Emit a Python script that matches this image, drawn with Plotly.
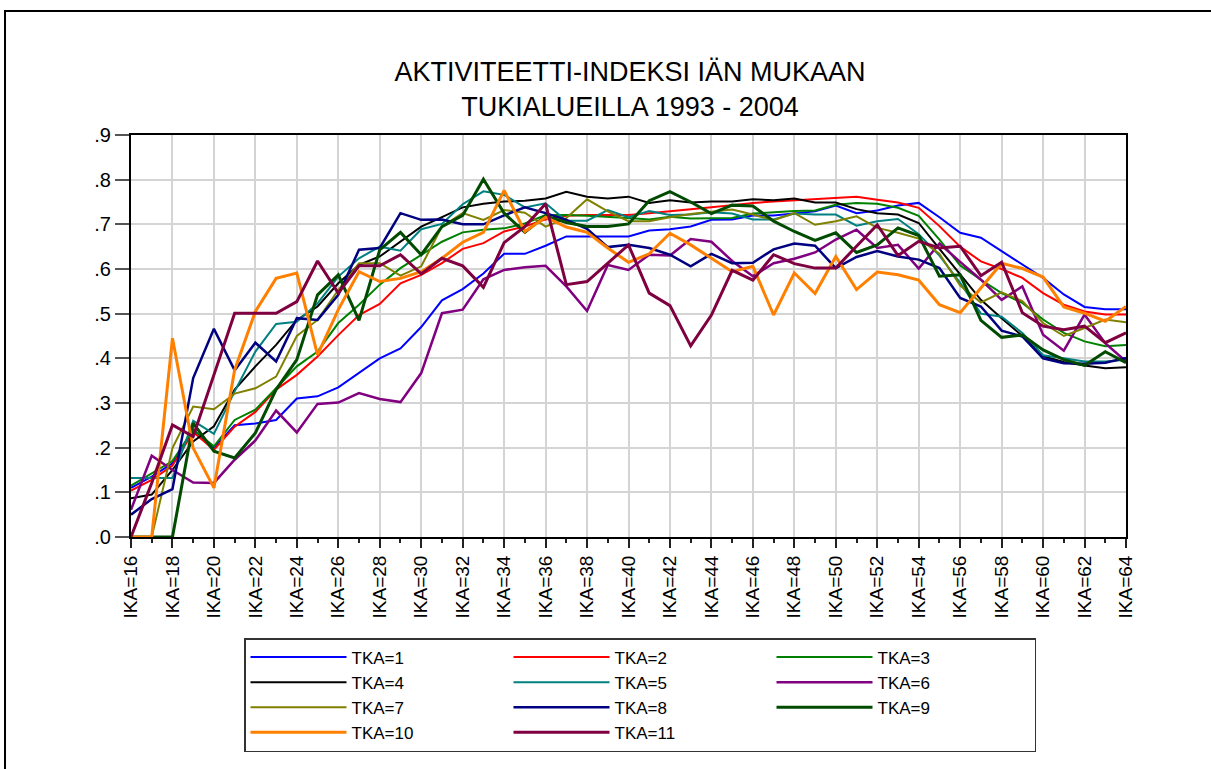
import plotly.graph_objects as go

# Age groups IKA=16 ... IKA=64
ages = list(range(16, 65))
age_labels = [f"IKA={a}" for a in ages]

tka_1 = [0.11, 0.135, 0.165, 0.24, 0.20, 0.25, 0.254, 0.262, 0.31, 0.315,
         0.335, 0.368, 0.40, 0.422, 0.47, 0.53, 0.555, 0.59, 0.634, 0.634,
         0.652, 0.673, 0.673, 0.673, 0.673, 0.686, 0.689, 0.695, 0.71, 0.711,
         0.72, 0.72, 0.725, 0.729, 0.742, 0.725, 0.731, 0.742, 0.748, 0.716,
         0.681, 0.67, 0.64, 0.61, 0.58, 0.543, 0.515, 0.51, 0.51]
tka_2 = [0.104, 0.128, 0.16, 0.235, 0.195, 0.247, 0.28, 0.33, 0.363, 0.404,
         0.452, 0.497, 0.522, 0.568, 0.587, 0.613, 0.645, 0.658, 0.684, 0.695,
         0.711, 0.719, 0.721, 0.721, 0.721, 0.725, 0.729, 0.733, 0.738, 0.743,
         0.748, 0.751, 0.754, 0.757, 0.76, 0.762, 0.755, 0.749, 0.737, 0.696,
         0.65, 0.617, 0.60, 0.58, 0.546, 0.52, 0.505, 0.498, 0.498]
tka_3 = [0.115, 0.143, 0.17, 0.24, 0.203, 0.262, 0.285, 0.333, 0.382, 0.415,
         0.479, 0.52, 0.565, 0.602, 0.632, 0.661, 0.682, 0.688, 0.691, 0.702,
         0.721, 0.721, 0.719, 0.717, 0.714, 0.711, 0.717, 0.713, 0.713, 0.714,
         0.724, 0.727, 0.73, 0.731, 0.744, 0.748, 0.746, 0.737, 0.719, 0.666,
         0.608, 0.576, 0.546, 0.524, 0.487, 0.457, 0.438, 0.427, 0.43]
tka_4 = [0.087, 0.095, 0.15, 0.214, 0.248, 0.33, 0.382, 0.43, 0.486, 0.516,
         0.568, 0.609, 0.628, 0.661, 0.695, 0.716, 0.738, 0.746, 0.751, 0.753,
         0.758, 0.773, 0.762, 0.758, 0.762, 0.748, 0.754, 0.749, 0.751, 0.751,
         0.756, 0.754, 0.758, 0.749, 0.749, 0.734, 0.725, 0.722, 0.703, 0.645,
         0.587, 0.531, 0.49, 0.45, 0.405, 0.392, 0.384, 0.378, 0.38]
tka_5 = [0.132, 0.132, 0.132, 0.26, 0.231, 0.326, 0.415, 0.477, 0.482, 0.523,
         0.583, 0.624, 0.65, 0.641, 0.689, 0.701, 0.745, 0.774, 0.766, 0.738,
         0.747, 0.708, 0.708, 0.732, 0.716, 0.73, 0.721, 0.722, 0.727, 0.724,
         0.711, 0.711, 0.724, 0.722, 0.722, 0.697, 0.707, 0.712, 0.678, 0.63,
         0.569, 0.50, 0.493, 0.457, 0.407, 0.40, 0.393, 0.393, 0.397]
tka_6 = [0.061, 0.182, 0.15, 0.122, 0.121, 0.173, 0.216, 0.283, 0.234, 0.298,
         0.301, 0.322, 0.309, 0.302, 0.367, 0.501, 0.509, 0.577, 0.598, 0.604,
         0.607, 0.561, 0.506, 0.609, 0.598, 0.632, 0.63, 0.667, 0.661, 0.618,
         0.584, 0.613, 0.623, 0.637, 0.666, 0.688, 0.647, 0.654, 0.601, 0.657,
         0.616, 0.576, 0.531, 0.561, 0.453, 0.417, 0.498, 0.434, 0.393]
tka_7 = [0.0, 0.0, 0.199, 0.292, 0.286, 0.321, 0.333, 0.359, 0.45, 0.486,
         0.553, 0.613, 0.613, 0.585, 0.606, 0.695, 0.725, 0.71, 0.732, 0.726,
         0.695, 0.714, 0.756, 0.729, 0.707, 0.707, 0.716, 0.723, 0.728, 0.733,
         0.722, 0.709, 0.725, 0.699, 0.707, 0.718, 0.692, 0.681, 0.668, 0.634,
         0.563, 0.525, 0.548, 0.528, 0.479, 0.45, 0.468, 0.487, 0.481]
tka_8 = [0.05, 0.085, 0.107, 0.356, 0.466, 0.373, 0.435, 0.393, 0.49, 0.486,
         0.542, 0.643, 0.647, 0.725, 0.71, 0.711, 0.70, 0.70, 0.72, 0.738,
         0.725, 0.71, 0.69, 0.649, 0.654, 0.647, 0.632, 0.606, 0.634, 0.613,
         0.614, 0.644, 0.657, 0.652, 0.602, 0.627, 0.64, 0.628, 0.621, 0.602,
         0.535, 0.516, 0.462, 0.449, 0.40, 0.389, 0.388, 0.39, 0.401]
tka_9 = [0.0, 0.0, 0.0, 0.255, 0.192, 0.177, 0.233, 0.33, 0.397, 0.542,
         0.587, 0.485, 0.643, 0.682, 0.632, 0.695, 0.72, 0.801, 0.725, 0.682,
         0.719, 0.704, 0.695, 0.695, 0.701, 0.753, 0.773, 0.75, 0.724, 0.743,
         0.741, 0.707, 0.684, 0.664, 0.681, 0.637, 0.654, 0.692, 0.675, 0.584,
         0.587, 0.485, 0.447, 0.452, 0.419, 0.397, 0.384, 0.415, 0.39]
tka_10 = [0.0, 0.0, 0.445, 0.199, 0.11, 0.374, 0.505, 0.579, 0.591, 0.408,
          0.509, 0.594, 0.572, 0.579, 0.594, 0.624, 0.66, 0.682, 0.776, 0.684,
          0.716, 0.694, 0.682, 0.647, 0.615, 0.634, 0.68, 0.654, 0.624, 0.594,
          0.606, 0.497, 0.591, 0.545, 0.628, 0.554, 0.593, 0.587, 0.575, 0.52,
          0.502, 0.557, 0.613, 0.601, 0.582, 0.515, 0.501, 0.483, 0.516]
tka_11 = [0.0, 0.121, 0.251, 0.225, 0.363, 0.501, 0.501, 0.501, 0.527, 0.618,
          0.546, 0.607, 0.607, 0.632, 0.589, 0.624, 0.607, 0.559, 0.659, 0.695,
          0.746, 0.565, 0.572, 0.613, 0.654, 0.546, 0.518, 0.428, 0.497, 0.597,
          0.575, 0.632, 0.612, 0.602, 0.602, 0.651, 0.699, 0.63, 0.662, 0.647,
          0.651, 0.585, 0.615, 0.502, 0.472, 0.464, 0.472, 0.435, 0.457]

series_names = [f"TKA={i}" for i in range(1, 12)]
series_values = [tka_1, tka_2, tka_3, tka_4, tka_5, tka_6,
                 tka_7, tka_8, tka_9, tka_10, tka_11]
series_colors = ["#0000FF", "#FF0000", "#008000", "#000000", "#008080",
                 "#800080", "#808000", "#000080", "#004B00", "#FF8000",
                 "#7F0040"]
series_widths = [2, 2, 2, 2, 2, 2.5, 2, 2.5, 3, 3, 3]

y_ticks = [0.0, 0.1, 0.2, 0.3, 0.4, 0.5, 0.6, 0.7, 0.8, 0.9]
y_tick_text = [".0", ".1", ".2", ".3", ".4", ".5", ".6", ".7", ".8", ".9"]

x_idx = list(range(len(ages)))

fig = go.Figure()
for name, vals, col, w in zip(series_names, series_values, series_colors, series_widths):
    fig.add_trace(go.Scatter(
        x=x_idx, y=vals, name=name, mode="lines",
        line=dict(color=col, width=w),
        hoverinfo="x+y+name",
    ))

major = x_idx[::2]
minor = x_idx[1::2]

L, R, T, B = 131, 85, 135, 232
W, H = 1211, 769
pw, ph = W - L - R, H - T - B

def px_to_paper_x(px):
    return (px - L) / pw

def px_to_paper_y(py):
    return (H - B - py) / ph

fig.update_layout(
    width=W, height=H,
    margin=dict(l=L, r=R, t=T, b=B, pad=0),
    paper_bgcolor="white",
    plot_bgcolor="white",
    font=dict(family="Liberation Sans, Arial, sans-serif", color="black"),
    title=dict(
        text="AKTIVITEETTI-INDEKSI IÄN MUKAAN<br>TUKIALUEILLA 1993 - 2004",
        x=px_to_paper_x(630), xref="paper", xanchor="center",
        y=(H - 81) / H, yref="container", yanchor="middle",
        font=dict(size=27),
    ),
    showlegend=True,
    legend=dict(
        orientation="h",
        x=px_to_paper_x(244), y=px_to_paper_y(638),
        xanchor="left", yanchor="top",
        bordercolor="#333333", borderwidth=1.5,
        bgcolor="white",
        font=dict(size=17, family="Liberation Sans, Arial, sans-serif"),
        itemwidth=96,
        entrywidth=152, entrywidthmode="pixels",
        traceorder="normal",
    ),
    xaxis=dict(
        range=[0, len(ages) - 1],
        tickmode="array", tickvals=major,
        ticktext=[age_labels[i] for i in major],
        tickangle=-90,
        tickfont=dict(size=19),
        ticks="outside", ticklen=9, tickwidth=1.5, tickcolor="#222222",
        showgrid=True, gridcolor="#D4D4D4", gridwidth=2,
        showline=True, linecolor="black", linewidth=2, mirror=True,
        zeroline=False,
        minor=dict(tickvals=minor, ticks="outside", ticklen=4,
                   tickwidth=1.5, tickcolor="#222222", showgrid=False),
    ),
    yaxis=dict(
        range=[0, 0.9],
        tickmode="array", tickvals=y_ticks, ticktext=y_tick_text,
        tickfont=dict(size=20),
        ticks="outside", ticklen=14, tickwidth=1.5, tickcolor="#555555",
        showgrid=True, gridcolor="#D4D4D4", gridwidth=2,
        showline=True, linecolor="black", linewidth=2, mirror=True,
        zeroline=False,
    ),
    shapes=[
        dict(type="rect", xref="paper", yref="paper",
             x0=px_to_paper_x(5), x1=px_to_paper_x(1230),
             y0=px_to_paper_y(790), y1=px_to_paper_y(11),
             line=dict(color="black", width=2), layer="below"),
    ],
)

fig.write_html("out.html")
